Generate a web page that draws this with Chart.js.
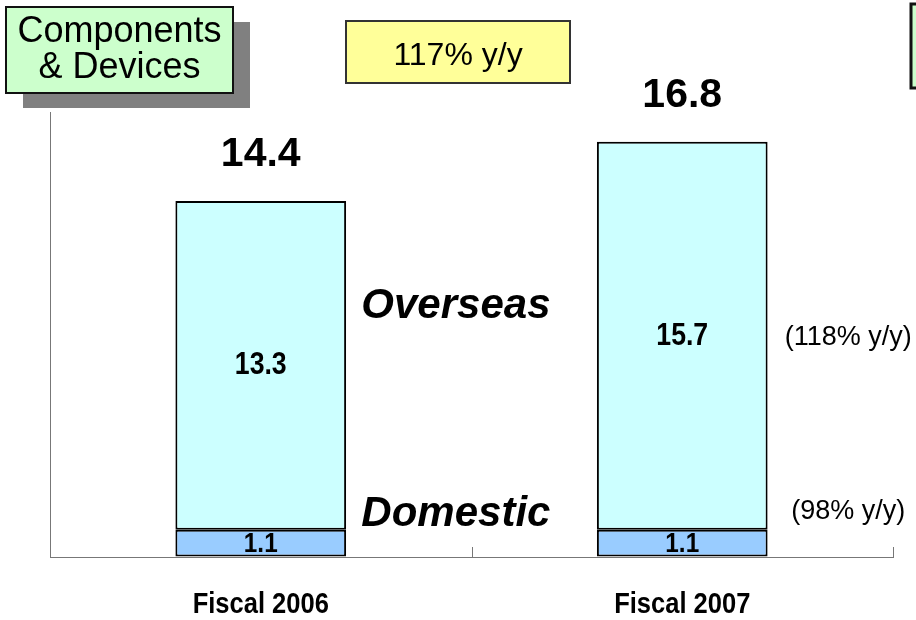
<!DOCTYPE html>
<html>
<head>
<meta charset="utf-8">
<script src="https://cdn.jsdelivr.net/npm/chart.js@4"></script>
<style>
  html, body { margin: 0; padding: 0; background: #ffffff; }
  #wrap { width: 916px; height: 620px; position: relative; }
</style>
</head>
<body>
<div id="wrap"><canvas id="c" width="916" height="620"></canvas></div>
<script>
// ---- data ----
const categories = ['Fiscal 2006', 'Fiscal 2007'];
const domestic = [1.1, 1.1];
const overseas = [13.3, 15.7];
const segmentTitle = 'Components\n& Devices';
const totalGrowth = '117% y/y';
const overseasGrowth = '(118% y/y)';
const domesticGrowth = '(98% y/y)';
const seriesNames = ['Domestic', 'Overseas'];

const ARIAL = '"Liberation Sans", Arial, sans-serif';

function narrowText(ctx, text, x, y, font, sx) {
  ctx.save();
  ctx.font = font;
  ctx.translate(x, y);
  ctx.scale(sx, 1);
  ctx.fillText(text, 0, 0);
  ctx.restore();
}

const decor = {
  id: 'decor',
  afterDraw(chart) {
    const ctx = chart.ctx;
    const xs = chart.scales.x, ys = chart.scales.y;
    ctx.save();

    // inner tick marks at category boundaries on the x axis
    ctx.strokeStyle = '#777777';
    ctx.lineWidth = 1;
    const bottom = ys.getPixelForValue(0);
    const bounds = [(xs.getPixelForValue(0) + xs.getPixelForValue(1)) / 2, xs.right];
    bounds.forEach(bx => {
      const px = Math.round(bx) + 0.5;
      ctx.beginPath();
      ctx.moveTo(px, bottom);
      ctx.lineTo(px, bottom - 10);
      ctx.stroke();
    });

    ctx.fillStyle = '#000000';
    ctx.textAlign = 'center';
    ctx.textBaseline = 'alphabetic';

    // category labels under the axis
    categories.forEach((c, i) => {
      narrowText(ctx, c, xs.getPixelForValue(i), bottom + 56, 'bold 29px ' + ARIAL, 0.88);
    });

    // labels inside the bar segments
    const domMeta = chart.getDatasetMeta(0);
    const ovMeta = chart.getDatasetMeta(1);
    domMeta.data.forEach((bar, i) => {
      narrowText(ctx, domestic[i].toFixed(1), bar.x, (bar.y + bar.base) / 2 + 9, 'bold 27px ' + ARIAL, 0.9);
    });
    ovMeta.data.forEach((bar, i) => {
      narrowText(ctx, overseas[i].toFixed(1), bar.x, (bar.y + bar.base) / 2 + 9, 'bold 31px ' + ARIAL, 0.86);
      // totals above the bars
      ctx.font = 'bold 41px ' + ARIAL;
      ctx.fillText((domestic[i] + overseas[i]).toFixed(1), bar.x, bar.y - 35);
    });

    // series names between the bars
    ctx.font = 'italic bold 42px ' + ARIAL;
    const midX = xs.getPixelForValue(0.463);
    ctx.fillText(seriesNames[1], midX, ys.getPixelForValue(9.67));
    ctx.fillText(seriesNames[0], midX, ys.getPixelForValue(1.25));

    // growth notes on the right
    ctx.font = '27px ' + ARIAL;
    const gx = xs.getPixelForValue(1.394);
    ctx.fillText(overseasGrowth, gx, ys.getPixelForValue(8.58));
    ctx.fillText(domesticGrowth, gx, ys.getPixelForValue(1.54));

    // title box with shadow
    ctx.fillStyle = '#808080';
    ctx.fillRect(23, 22, 227, 86);
    ctx.fillStyle = '#CCFFCC';
    ctx.fillRect(6, 7, 227, 86);
    ctx.strokeStyle = '#111111';
    ctx.lineWidth = 2;
    ctx.strokeRect(6, 7, 227, 86);
    ctx.fillStyle = '#000000';
    ctx.font = '36px ' + ARIAL;
    const lines = segmentTitle.split('\n');
    ctx.fillText(lines[0], 119.5, 42);
    ctx.fillText(lines[1], 119.5, 78);

    // yellow growth box
    ctx.fillStyle = '#FFFF99';
    ctx.fillRect(346, 21, 224, 62);
    ctx.strokeStyle = '#333333';
    ctx.lineWidth = 2;
    ctx.strokeRect(346, 21, 224, 62);
    ctx.fillStyle = '#000000';
    ctx.font = '32px ' + ARIAL;
    ctx.fillText(totalGrowth, 458, 65);

    // partially visible box at the right edge
    ctx.fillStyle = '#CCFFCC';
    ctx.fillRect(911, 4, 20, 84);
    ctx.strokeStyle = '#111111';
    ctx.lineWidth = 3;
    ctx.strokeRect(911, 4, 20, 84);

    ctx.restore();
  }
};

new Chart(document.getElementById('c'), {
  type: 'bar',
  data: {
    labels: categories,
    datasets: [
      { label: seriesNames[0], data: domestic, backgroundColor: '#99CCFF', borderColor: '#000000', borderWidth: 2, borderSkipped: false },
      { label: seriesNames[1], data: overseas, backgroundColor: '#CCFFFF', borderColor: '#000000', borderWidth: 2, borderSkipped: false }
    ]
  },
  options: {
    responsive: false,
    animation: false,
    barPercentage: 0.81,
    categoryPercentage: 0.5,
    layout: { padding: { left: 50, right: 23, top: 112, bottom: 55 } },
    plugins: { legend: { display: false }, tooltip: { enabled: false }, title: { display: false } },
    scales: {
      x: {
        stacked: true,
        grid: { display: false },
        border: { display: true, color: '#777777', width: 1 },
        ticks: { display: false }
      },
      y: {
        stacked: true,
        min: 0,
        max: 18,
        grid: { drawOnChartArea: false, drawTicks: false },
        border: { display: true, color: '#777777', width: 1 },
        ticks: { display: false }
      }
    }
  },
  plugins: [decor]
});
</script>
</body>
</html>
